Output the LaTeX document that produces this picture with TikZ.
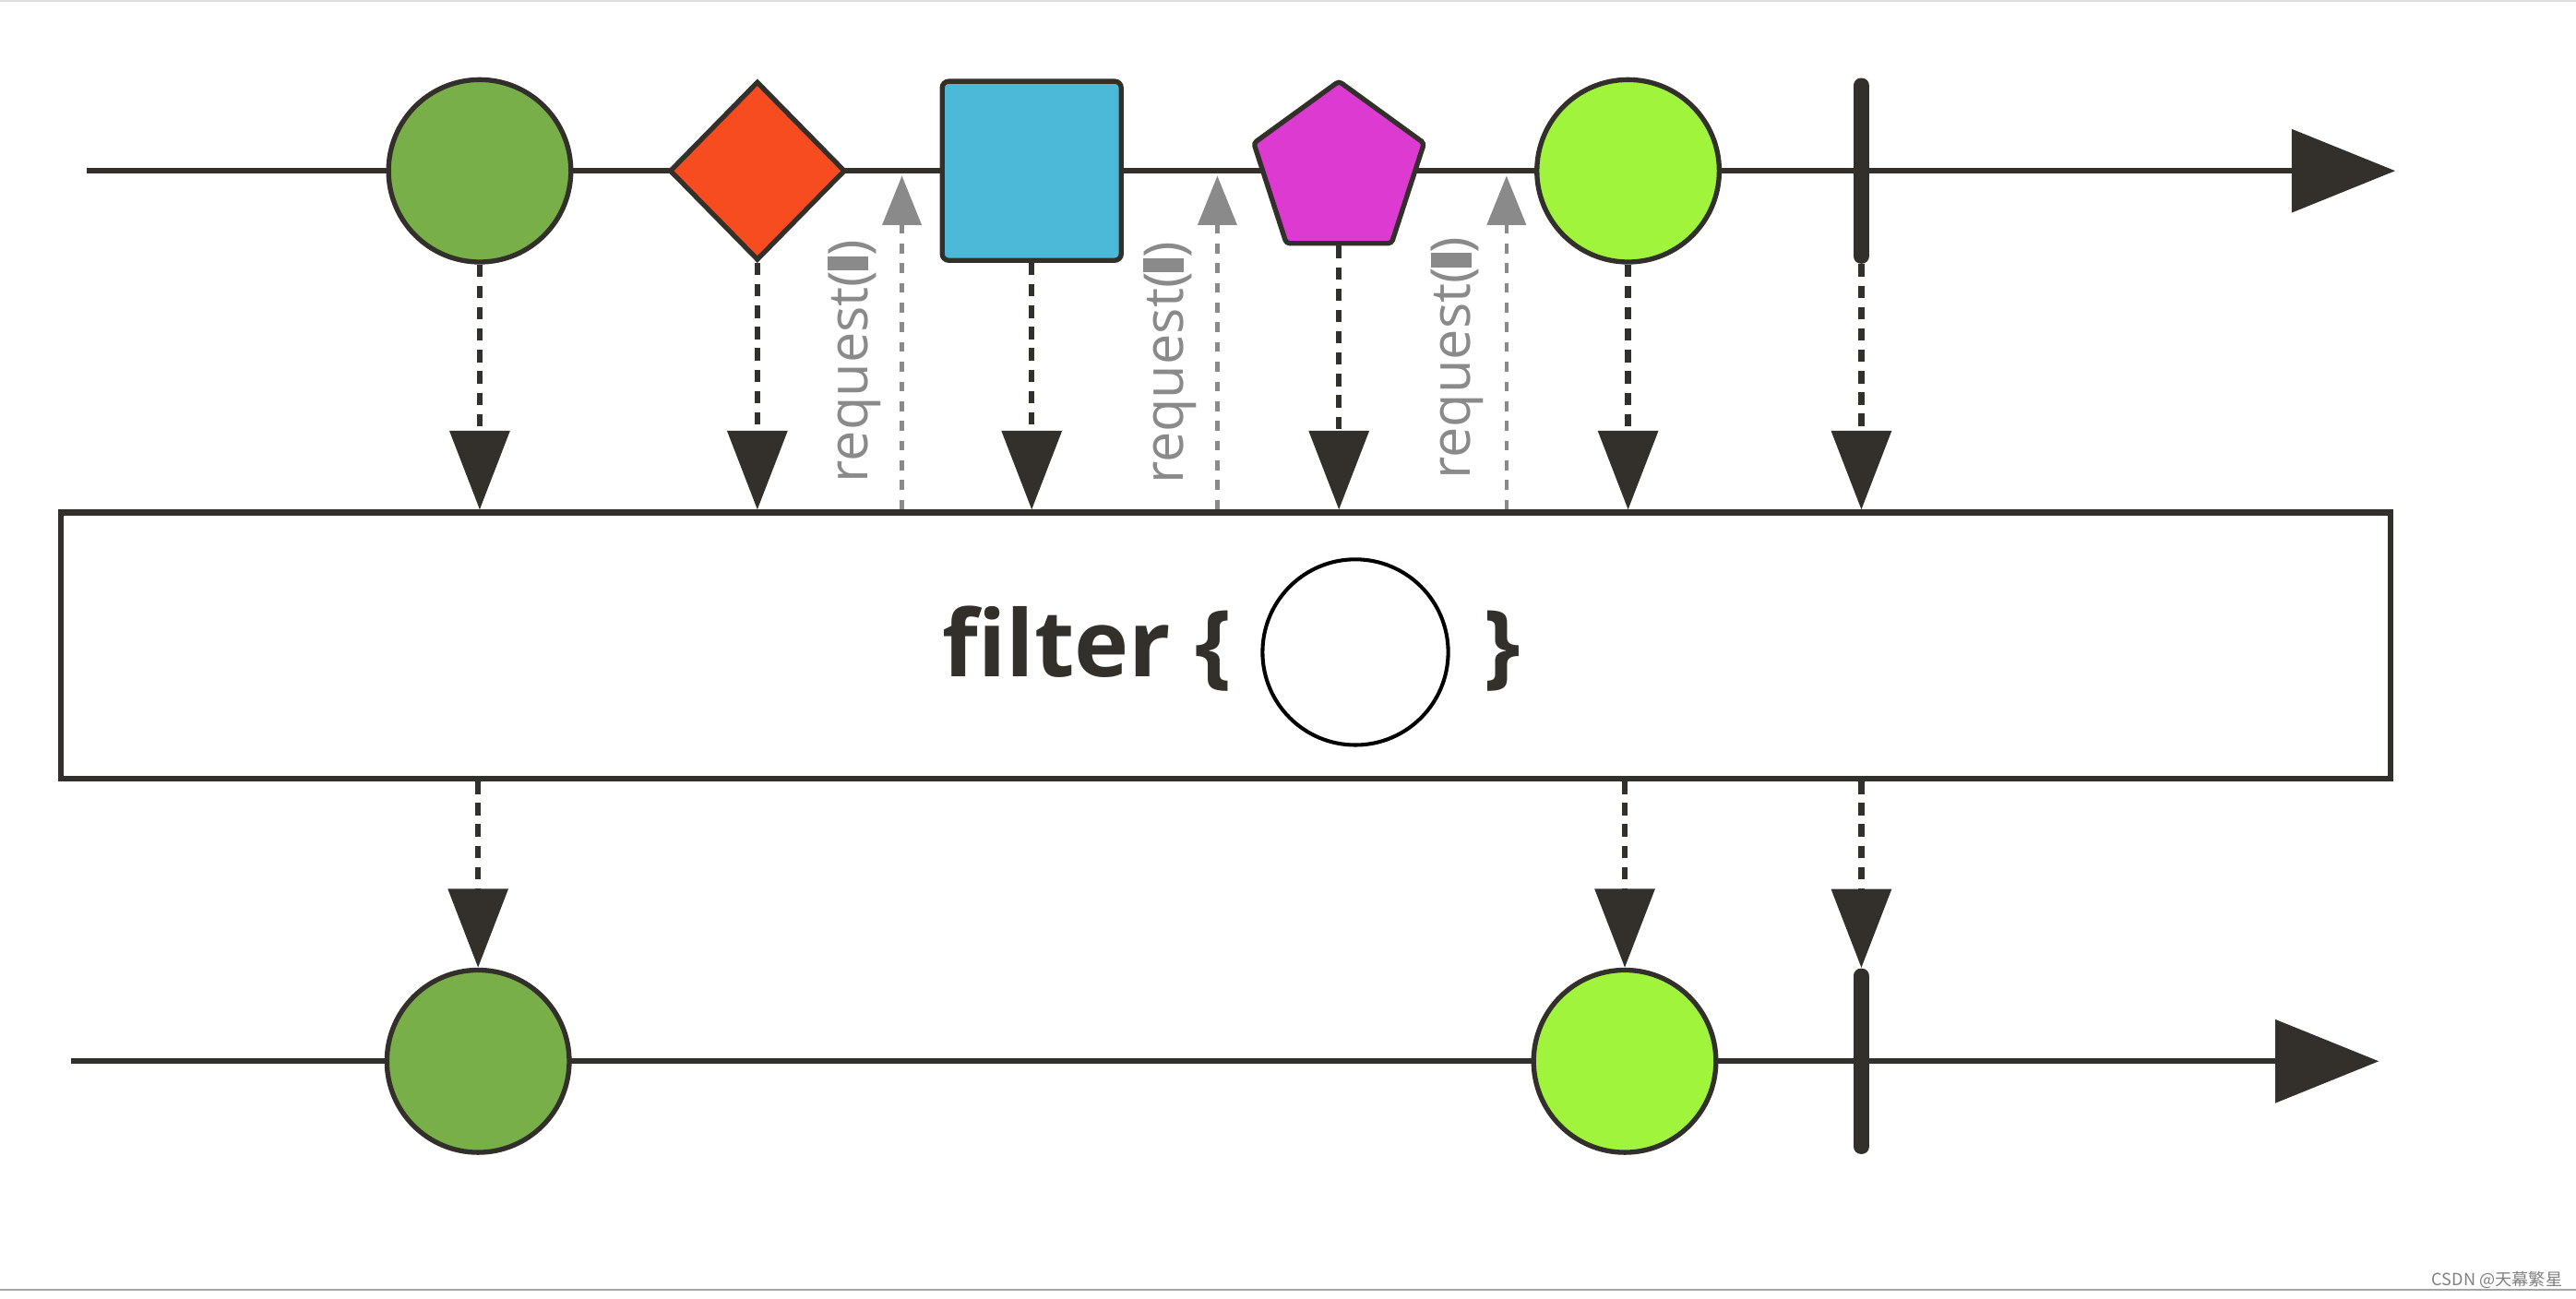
\documentclass[tikz,border=0pt]{standalone}
\usepackage{fontspec}
\usepackage{tikz}
\usetikzlibrary{arrows.meta,shapes.geometric,positioning,calc}
\newfontfamily\labelfont{Open Sans}
\newfontfamily\cjkfont{Noto Sans CJK SC}
\definecolor{ink}{HTML}{332F2B}
\definecolor{marbleA}{HTML}{78AF48}
\definecolor{marbleB}{HTML}{F74C1F}
\definecolor{marbleC}{HTML}{4DB9D9}
\definecolor{marbleD}{HTML}{DC3AD0}
\definecolor{marbleE}{HTML}{A0F43B}
\definecolor{reqgray}{HTML}{8A8A8A}
\tikzset{
	timeline/.style={draw=ink,line width=2pt,-{Triangle[length=12.6mm,width=10mm]}},
	marble/.style={circle,draw=ink,line width=1.7pt,minimum size=22.2mm,inner sep=0pt},
	gem/.style={diamond,draw=ink,line width=1.7pt,minimum width=21.4mm,minimum height=21.8mm,inner sep=0pt},
	tile/.style={rectangle,draw=ink,line width=1.7pt,minimum size=21.8mm,inner sep=0pt,rounded corners=0.8mm},
	penta/.style={regular polygon,regular polygon sides=5,draw=ink,line width=1.7pt,minimum size=21.8mm,inner sep=0pt,rounded corners=0.4mm},
	endbar/.style={rectangle,fill=ink,minimum width=1.9mm,minimum height=22.6mm,inner sep=0pt,rounded corners=0.9mm},
	flow/.style={draw=ink,line width=2pt,dash pattern=on 1.5mm off 1.1mm,-{Triangle[length=9.6mm,width=7.2mm]}},
	reqflow/.style={draw=reqgray,line width=1.4pt,dash pattern=on 1.2mm off 1.2mm,-{Triangle[length=6mm,width=4.7mm]}},
	reqlabel/.style={rotate=90,text=reqgray,font=\labelfont\fontsize{19}{22}\selectfont,inner sep=0pt},
	optext/.style={text=ink,font=\labelfont\bfseries\fontsize{32}{38}\selectfont,inner sep=0pt}
}
\newcommand{\reqbox}{\rule[-0.02em]{0.26em}{0.74em}}
\begin{document}
\begin{tikzpicture}[x=0.2mm,y=-0.2mm]
	\useasboundingbox (0,0) rectangle (1568,790.2);
	\draw[gray!25,line width=0.5pt] (0,0.5)--(1568,0.5);
	\draw[gray!70,line width=0.7pt] (0,785)--(1568,785);
	% source timeline
	\coordinate (t0) at (53,104);
	\coordinate (t1) at (1458,104);
	\draw[timeline] (t0)--(t1);
	\node (g1) at (292,104)[marble,fill=marbleA] {};
	\node (d1) at (461,104)[gem,fill=marbleB] {};
	\node (s1) at (628,104)[tile,fill=marbleC] {};
	\node (p1) at (815,104)[penta,fill=marbleD] {};
	\node (g2) at (991,104)[marble,fill=marbleE] {};
	\node (e1) at (1133,104)[endbar] {};
	% operator box
	\node (flt) at (746,393)[rectangle,draw=ink,line width=2pt,minimum width=283.6mm,minimum height=32.4mm,inner sep=0pt] {};
	\node (ftxt) at (750,412)[optext,anchor=base east] {f{}ilter \{};
	\node (fc) at (825,397)[circle,draw=black,line width=1.3pt,minimum size=22.6mm,inner sep=0pt] {};
	\node (fend) at (903,412)[optext,anchor=base west] {\}};
	\foreach \s in {g1,d1,s1,p1,g2,e1}
		\draw[flow] (\s.south)--(\s.south |- flt.north);
	% requests
	\coordinate (q1) at (549,107);
	\coordinate (q2) at (741,107);
	\coordinate (q3) at (917,107);
	\foreach \q in {q1,q2,q3}
		\draw[reqflow] (\q |- flt.north)--(\q);
	\node (r1) at (520,220)[reqlabel] {request(\reqbox)};
	\node (r2) at (712,221)[reqlabel] {request(\reqbox)};
	\node (r3) at (887,218)[reqlabel] {request(\reqbox)};
	% result timeline
	\coordinate (b0) at (43,646);
	\coordinate (b1) at (1448,646);
	\draw[timeline] (b0)--(b1);
	\node (g3) at (291,646)[marble,fill=marbleA] {};
	\node (g4) at (989,646)[marble,fill=marbleE] {};
	\node (e2) at (1133,646)[endbar] {};
	\foreach \s in {g3,g4,e2}
		\draw[flow] (\s.north |- flt.south)--(\s.north);
	\node (mark) at (1560,779)[anchor=east,text=gray,font=\cjkfont\fontsize{5.8}{7}\selectfont,inner sep=0pt] {CSDN @天幕繁星};
\end{tikzpicture}
\end{document}
